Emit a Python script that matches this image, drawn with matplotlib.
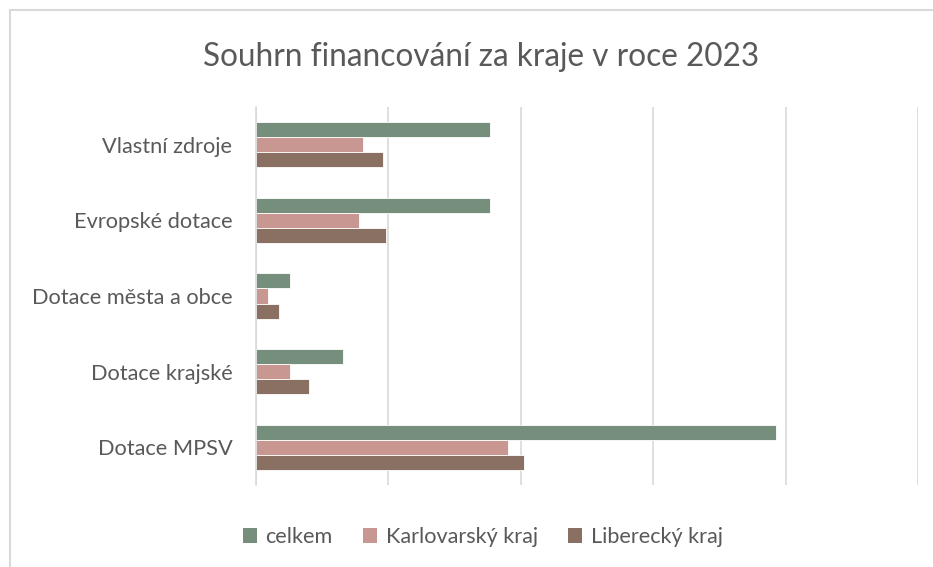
import matplotlib.pyplot as plt
import numpy as np
from matplotlib.lines import Line2D
from matplotlib.patches import Patch

plt.rcParams['font.family'] = ['Lato', 'DejaVu Sans']

categories = ['Vlastní zdroje', 'Evropské dotace', 'Dotace města a obce',
              'Dotace krajské', 'Dotace MPSV']
series_names = ['celkem', 'Karlovarský kraj', 'Liberecký kraj']
celkem = [35.4, 35.3, 5.2, 13.1, 78.5]
karlovarsky = [16.1, 15.6, 1.8, 5.1, 38.0]
liberecky = [19.2, 19.6, 3.4, 8.0, 40.5]
colors = ['#768F7D', '#C99791', '#8A7063']

W, H = 933, 567
fig = plt.figure(figsize=(W / 100, H / 100), dpi=100)
ax = fig.add_axes([256 / W, 1 - 485 / H, (918 - 256) / W, (485 - 107) / H])

y = np.arange(len(categories))
h = 0.2
for k, (vals, c) in enumerate(zip([celkem, karlovarsky, liberecky], colors)):
    ax.barh(y + (k - 1) * h, vals, height=h, color=c, edgecolor='white', linewidth=0.6)

ax.set_xlim(0, 100)
ax.set_ylim(len(categories) - 0.5, -0.5)
ax.set_xticks(np.arange(0, 101, 20))
ax.set_xticklabels([])
ax.set_yticks(y)
ax.set_yticklabels(categories, fontsize=15.7, color='#595959')
ax.tick_params(axis='both', length=0, pad=17)
ax.grid(axis='x', color='#D9D9D9', linewidth=1.2)
ax.set_axisbelow(True)
for s in ['top', 'right', 'bottom']:
    ax.spines[s].set_visible(False)
ax.spines['left'].set_color('#D9D9D9')
ax.spines['left'].set_linewidth(1.2)

fig.text(481 / W, 1 - 57 / H, 'Souhrn financování za kraje v roce 2023',
         ha='center', va='center', fontsize=22.7, color='#595959')

handles = [Patch(facecolor=c, edgecolor='none') for c in colors]
fig.legend(handles, series_names, loc='center', bbox_to_anchor=(483 / W, 1 - 537 / H),
           ncol=3, frameon=False, fontsize=15.6, labelcolor='#595959',
           handlelength=0.65, handleheight=0.65, handletextpad=0.4, columnspacing=1.4)

# chart area border
fig.add_artist(Line2D([10 / W, 10 / W], [0, 1 - 10 / H], transform=fig.transFigure,
                      color='#D9D9D9', linewidth=1.5))
fig.add_artist(Line2D([10 / W, 1], [1 - 10 / H, 1 - 10 / H], transform=fig.transFigure,
                      color='#D9D9D9', linewidth=1.5))

fig.savefig('out.png', dpi=100, facecolor='white')
